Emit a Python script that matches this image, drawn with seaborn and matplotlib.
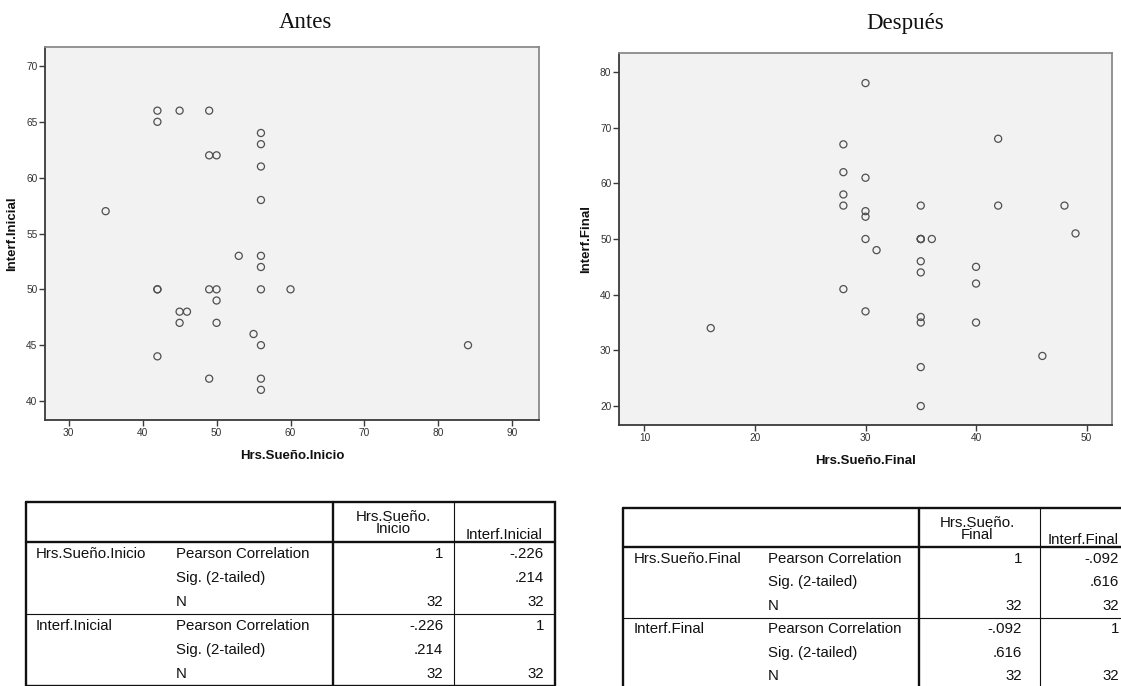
import numpy as np
import pandas as pd
import matplotlib
matplotlib.use("Agg")
import matplotlib.pyplot as plt
import seaborn as sns

# ---------------- data ----------------
hrs_inicio = [42, 45, 49, 42, 56, 56, 49, 50, 56, 56, 35, 53, 56, 56, 42, 42,
              49, 50, 56, 60, 50, 45, 46, 45, 50, 55, 56, 84, 42, 49, 56, 56]
interf_inicial = [66, 66, 66, 65, 64, 63, 62, 62, 61, 58, 57, 53, 53, 52, 50, 50,
                  50, 50, 50, 50, 49, 48, 48, 47, 47, 46, 45, 45, 44, 42, 42, 41]

hrs_final = [30, 42, 28, 28, 30, 28, 28, 35, 42, 48, 30, 30, 49, 30, 35, 35,
             35, 36, 31, 35, 35, 40, 40, 28, 30, 35, 35, 40, 16, 46, 35, 35]
interf_final = [78, 68, 67, 62, 61, 58, 56, 56, 56, 56, 55, 54, 51, 50, 50, 50,
                50, 50, 48, 46, 44, 45, 42, 41, 37, 36, 35, 35, 34, 29, 27, 20]

titles = ["Antes", "Después"]
x_names = ["Hrs.Sueño.Inicio", "Hrs.Sueño.Final"]
y_names = ["Interf.Inicial", "Interf.Final"]
x_ticks_left = [30, 40, 50, 60, 70, 80, 90]
y_ticks_left = [40, 45, 50, 55, 60, 65, 70]
x_ticks_right = [10, 20, 30, 40, 50]
y_ticks_right = [20, 30, 40, 50, 60, 70, 80]

stat_labels = ["Pearson Correlation", "Sig. (2-tailed)", "N"]
left_headers = [["Hrs.Sueño.", "Inicio"], ["Interf.Inicial"]]
left_values = [["1", "-.226"], ["", ".214"], ["32", "32"],
               ["-.226", "1"], [".214", ""], ["32", "32"]]
right_headers = [["Hrs.Sueño.", "Final"], ["Interf.Final"]]
right_values = [["1", "-.092"], ["", ".616"], ["32", "32"],
                ["-.092", "1"], [".616", ""], ["32", "32"]]

# ---------------- style ----------------
sns.set_theme(style="ticks")
plt.rcParams['font.family'] = ['Liberation Sans', 'DejaVu Sans']

W, H = 1121, 686
fig = plt.figure(figsize=(W / 100, H / 100), dpi=100)


def px_axes(x0, y0, x1, y1):
    return fig.add_axes([x0 / W, 1 - y1 / H, (x1 - x0) / W, (y1 - y0) / H])


def scatter_panel(ax, x, y, xname, yname, xlim, ylim, xticks, yticks):
    df = pd.DataFrame({xname: x, yname: y})
    sns.scatterplot(data=df, x=xname, y=yname, ax=ax, marker='o', s=26,
                    facecolor='none', edgecolor='#505050', linewidth=0.9,
                    zorder=3)
    ax.set_facecolor('#f2f2f2')
    ax.set_xlim(*xlim)
    ax.set_ylim(*ylim)
    ax.set_xticks(xticks)
    ax.set_yticks(yticks)
    for side in ['left', 'bottom']:
        ax.spines[side].set_color('#3a3a3a')
        ax.spines[side].set_linewidth(1.3)
        ax.spines[side].set_visible(True)
    for side in ['top', 'right']:
        ax.spines[side].set_color('#8a8a8a')
        ax.spines[side].set_linewidth(1.3)
        ax.spines[side].set_visible(True)
    ax.tick_params(direction='out', length=4, width=1, colors='#3a3a3a',
                   labelsize=7.3, labelcolor='#333333', top=False, right=False,
                   pad=1.5)
    ax.set_xlabel(xname, fontsize=9.5, fontweight='bold', labelpad=9,
                  color='#111111')
    ax.set_ylabel(yname, fontsize=9.5, fontweight='bold', labelpad=6,
                  color='#111111')
    ax.grid(False)


axL = px_axes(45, 47, 539, 420)
scatter_panel(axL, hrs_inicio, interf_inicial, x_names[0], y_names[0],
              (26.8, 93.6), (38.3, 71.7), x_ticks_left, y_ticks_left)
axR = px_axes(619, 53, 1112, 425)
scatter_panel(axR, hrs_final, interf_final, x_names[1], y_names[1],
              (7.7, 52.3), (16.6, 83.4), x_ticks_right, y_ticks_right)

fig.text(305 / W, 1 - 23 / H, titles[0], family='Liberation Serif',
         fontsize=16.5, ha='center', va='center', color='#111111')
fig.text(905 / W, 1 - 23 / H, titles[1], family='Liberation Serif',
         fontsize=16.5, ha='center', va='center', color='#111111')

# ---------------- tables ----------------
axT = fig.add_axes([0, 0, 1, 1], zorder=5)
axT.set_xlim(0, W)
axT.set_ylim(H, 0)
axT.axis('off')
axT.patch.set_alpha(0)

FS = 10.8
TH, TN = 1.7, 0.8  # thick / thin line widths
LC = '#111111'


def draw_table(g, row_vars, headers, values):
    L, R, T, HB, RH = g['left'], g['right'], g['top'], g['hb'], g['rh']
    B = HB + 6 * RH
    c1, c2 = g['cols']
    sep = HB + 3 * RH
    axT.plot([L, R, R, L, L], [T, T, B, B, T], color=LC, lw=TH,
             solid_joinstyle='miter', clip_on=False)
    axT.plot([L, R], [HB, HB], color=LC, lw=TH)
    axT.plot([L, R], [sep, sep], color=LC, lw=TN)
    axT.plot([c1, c1], [T, B], color=LC, lw=TH)
    axT.plot([c2, c2], [T, B], color=LC, lw=TN)
    for j, hdr in enumerate(headers):
        xc = g['hx'][j]
        ha = g['hha'][j]
        if len(hdr) == 2:
            axT.text(xc, g['h2'][0], hdr[0], fontsize=FS, ha=ha,
                     va='center', color=LC, linespacing=1.0)
            axT.text(xc, g['h2'][1], hdr[1], fontsize=FS, ha=ha,
                     va='center', color=LC)
        else:
            axT.text(xc, g['h1'], hdr[0], fontsize=FS, ha=ha,
                     va='center', color=LC)
    for i in range(6):
        yc = HB + (i + 0.5) * RH
        if i % 3 == 0:
            axT.text(g['x1'], yc, row_vars[i // 3], fontsize=FS, ha='left',
                     va='center', color=LC)
        axT.text(g['x2'], yc, stat_labels[i % 3], fontsize=FS, ha='left',
                 va='center', color=LC)
        for j in range(2):
            if values[i][j]:
                axT.text(g['nx'][j], yc, values[i][j], fontsize=FS,
                         ha='right', va='center', color=LC)


geomL = dict(left=26, right=555, top=502, hb=542, rh=24, cols=(333, 454),
             x1=36, x2=176, nx=(443, 544), hx=(393.5, 504.5),
             hha=('center', 'center'), h2=(517, 529), h1=535)
geomR = dict(left=623, right=1140, top=508, hb=547, rh=23.5, cols=(919, 1040),
             x1=634, x2=768, nx=(1022, 1119), hx=(977, 1119),
             hha=('center', 'right'), h2=(523, 535), h1=540)

draw_table(geomL, x_names[:1] + y_names[:1], left_headers, left_values)
draw_table(geomR, x_names[1:] + y_names[1:], right_headers, right_values)

fig.savefig("out.png", dpi=100)
